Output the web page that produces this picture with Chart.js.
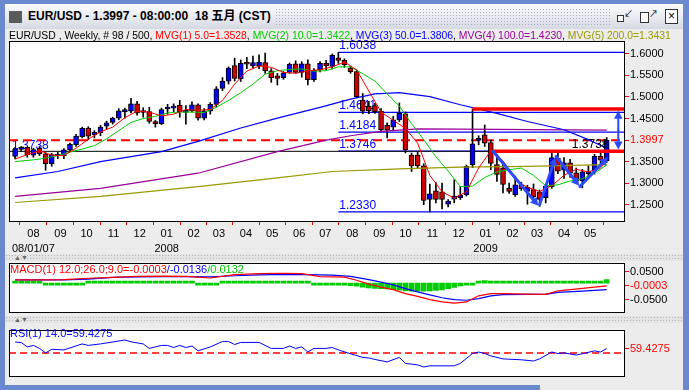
<!DOCTYPE html>
<html>
<head>
<meta charset="utf-8">
<title>EUR/USD Weekly</title>
<script src="https://cdn.jsdelivr.net/npm/chart.js@4.4.1/dist/chart.umd.min.js"></script>
<style>
  html, body { margin: 0; padding: 0; }
  body { width: 689px; height: 390px; position: relative; overflow: hidden; background: #6b89cf;
         font-family: "Liberation Sans", Arial, "Noto Sans CJK SC", sans-serif; }
  .abs { position: absolute; }
  #titlebar { left: 5px; top: 4px; width: 678px; height: 25px; background: linear-gradient(#fcfcfe, #e8eaf0 55%, #d5d9e2); }
  #title { left: 28px; top: 9px; font-weight: bold; font-size: 12px; line-height: 14px; color: #000; white-space: nowrap; }
  #grip { left: 9px; top: 11px; width: 13px; height: 12px;
          background-image: radial-gradient(#555 0.7px, transparent 0.9px); background-size: 2px 2px; }
  #dots { left: 275px; top: 8px; width: 336px; height: 18px;
          background-image: radial-gradient(#a6afc2 0.8px, transparent 1px); background-size: 3px 3px; }
  .ico { width: 8px; height: 8px; border: 1px solid #333; background: #fff; }
  #panel { left: 5px; top: 29px; width: 678px; height: 356px; background: #ececec; }
  #botgray { left: 540px; top: 383px; width: 143px; height: 7px; background: #ececec; }
  .sep { left: 5px; width: 678px; height: 7px; background-color: #e4e4e4;
         background-image: radial-gradient(#b5b5b5 0.7px, transparent 0.9px); background-size: 3px 3px; }
  .tri { font-size: 7px; color: #666; line-height: 7px; }
  canvas { position: absolute; left: 0; }
  .lbl { position: absolute; font-size: 11px; line-height: 13px; white-space: nowrap; z-index: 5; }
</style>
</head>
<body>
<div id="titlebar" class="abs"></div>
<div id="grip" class="abs"></div>
<div id="title" class="abs">EUR/USD - 1.3997 - 08:00:00&nbsp; 18 五月 (CST)</div>
<div id="dots" class="abs"></div>
<div class="abs ico" style="left:617px;top:15px;width:5px;height:5px;"></div>
<div class="abs" style="left:624px;top:7px;font-size:9px;">&#8601;</div>
<div class="abs ico" style="left:640px;top:12px;width:7px;height:9px;"></div>
<div class="abs" style="left:649px;top:7px;font-size:9px;">&#8599;</div>
<div class="abs ico" style="left:665px;top:9px;width:11px;height:13px;font-size:12px;line-height:13px;text-align:center;">&#215;</div>
<div id="panel" class="abs"></div>
<div id="botgray" class="abs"></div>
<div class="abs sep" style="top:254px;"></div>
<div class="abs tri" style="left:14px;top:254px;">&#9650;&#9660;</div>
<div class="abs sep" style="top:316px;"></div>
<div class="abs tri" style="left:14px;top:316px;">&#9650;&#9660;</div>

<canvas id="main" width="689" height="225" style="top:30px"></canvas>
<canvas id="macd" width="689" height="65" style="top:255px"></canvas>
<canvas id="rsi" width="689" height="62" style="top:322px"></canvas>

<div class="lbl" style="left:9px;top:29px;font-size:10.4px;">EUR/USD , Weekly, # 98 / 500, <span style="color:#ff0000">MVG(1) 5.0=1.3528</span>, <span style="color:#00cc00">MVG(2) 10.0=1.3422</span>, <span style="color:#0000ff">MVG(3) 50.0=1.3806</span>, <span style="color:#990099">MVG(4) 100.0=1.4230</span>, <span style="color:#999900">MVG(5) 200.0=1.3431</span></div>
<div class="lbl" style="left:10px;top:263px;"><span style="color:#ff0000">MACD(1) 12.0;26.0;9.0=-0.0003</span><span style="color:#0000ff">/-0.0136</span><span style="color:#00cc00">/0.0132</span></div>
<div class="lbl" style="left:10px;top:327px;color:#0000ff;">RSI(1) 14.0=59.4275</div>

<script>
const FONT = '"Liberation Sans", Arial, sans-serif';

// weekly bars, first bar dated 2007-07-11
const firstBar = Date.UTC(2007, 6, 11);
const WEEK = 7 * 24 * 3600 * 1000;

const monthLabels = ['08','09','10','11','12','01','02','03','04','05','06','07',
                     '08','09','10','11','12','01','02','03','04','05'];
const yearLabels = ['08/01/07','','','','','2008','','','','','','',
                    '','','','','','2009','','','',''];

const opens = [1.362,1.378,1.383,1.365,1.381,1.368,1.345,1.363,1.363,1.377,
  1.389,1.408,1.428,1.412,1.417,1.432,1.441,1.451,1.466,1.467,
  1.484,1.464,1.466,1.443,1.438,1.472,1.474,1.481,1.464,1.468,
  1.482,1.451,1.467,1.483,1.520,1.537,1.573,1.542,1.578,1.572,
  1.573,1.580,1.561,1.549,1.545,1.557,1.577,1.557,1.577,1.540,
  1.563,1.579,1.571,1.591,1.585,1.567,1.559,1.493,1.479,1.480,
  1.467,1.434,1.430,1.447,1.461,1.365,1.365,1.340,1.262,1.282,
  1.280,1.251,1.263,1.266,1.273,1.343,1.399,1.412,1.394,1.343,
  1.335,1.288,1.273,1.295,1.281,1.285,1.280,1.266,1.292,1.358,
  1.330,1.347,1.324,1.305,1.322,1.328,1.362,1.352];
const highs = [1.383,1.385,1.384,1.381,1.385,1.371,1.369,1.372,1.380,1.393,
  1.413,1.430,1.431,1.422,1.434,1.444,1.453,1.473,1.474,1.497,
  1.490,1.475,1.476,1.446,1.474,1.483,1.484,1.492,1.480,1.489,
  1.484,1.473,1.487,1.524,1.545,1.570,1.590,1.586,1.592,1.595,
  1.598,1.602,1.566,1.555,1.559,1.579,1.584,1.582,1.586,1.566,
  1.582,1.585,1.600,1.6038,1.589,1.571,1.563,1.508,1.490,1.485,
  1.473,1.440,1.455,1.486,1.465,1.370,1.372,1.345,1.298,1.301,
  1.300,1.262,1.308,1.292,1.342,1.4719,1.410,1.435,1.400,1.366,
  1.346,1.300,1.316,1.302,1.295,1.298,1.284,1.296,1.3738,1.370,
  1.359,1.355,1.335,1.332,1.340,1.367,1.370,1.406];
const lows = [1.356,1.374,1.360,1.360,1.364,1.330,1.339,1.357,1.357,1.375,
  1.385,1.405,1.401,1.405,1.410,1.425,1.437,1.447,1.451,1.463,
  1.458,1.453,1.439,1.430,1.436,1.460,1.465,1.453,1.437,1.465,
  1.446,1.447,1.460,1.477,1.515,1.530,1.537,1.536,1.566,1.567,
  1.566,1.555,1.534,1.528,1.541,1.555,1.555,1.546,1.528,1.536,
  1.558,1.563,1.565,1.578,1.569,1.555,1.498,1.461,1.461,1.462,
  1.419,1.405,1.423,1.443,1.370,1.327,1.335,1.250,1.233,1.254,
  1.240,1.245,1.254,1.262,1.270,1.336,1.389,1.385,1.331,1.304,
  1.277,1.276,1.269,1.283,1.251,1.262,1.246,1.254,1.288,1.322,
  1.311,1.313,1.301,1.289,1.312,1.321,1.345,1.348];
const closes = [1.379,1.383,1.366,1.378,1.368,1.345,1.366,1.365,1.377,1.390,
  1.409,1.427,1.409,1.418,1.430,1.440,1.451,1.468,1.469,1.484,
  1.463,1.466,1.443,1.438,1.471,1.474,1.476,1.466,1.469,1.482,
  1.451,1.468,1.483,1.519,1.537,1.567,1.543,1.578,1.576,1.580,
  1.581,1.561,1.545,1.543,1.556,1.576,1.557,1.577,1.540,1.562,
  1.578,1.572,1.597,1.585,1.575,1.559,1.501,1.467,1.468,1.466,
  1.424,1.423,1.447,1.462,1.377,1.340,1.340,1.260,1.275,1.262,
  1.262,1.258,1.270,1.272,1.339,1.391,1.404,1.393,1.346,1.320,
  1.297,1.281,1.296,1.287,1.290,1.268,1.262,1.293,1.359,1.328,
  1.347,1.323,1.305,1.326,1.327,1.362,1.353,1.3997];

// moving averages (week index -> value)
const ma5X = [0,2,4,6,8,10,12,14,16,18,20,22,24,26,28,30,32,34,36,38,40,42,44,46,48,
  50,52,54,56,58,60,62,64,66,68,70,72,74,76,78,80,82,84,86,88,90,92,94,96,97];
const ma5Y = [1.356,1.366,1.375,1.365,1.364,1.381,1.402,1.419,1.430,1.452,1.467,1.465,1.456,
  1.460,1.471,1.469,1.471,1.492,1.530,1.560,1.572,1.569,1.557,1.555,1.561,1.563,1.570,
  1.581,1.563,1.514,1.465,1.446,1.427,1.393,1.318,1.280,1.265,1.280,1.335,1.375,1.352,
  1.308,1.290,1.281,1.294,1.318,1.332,1.326,1.335,1.353];
const ma10X = [0,3,5,7,9,11,13,15,17,19,21,23,25,27,29,31,33,35,37,39,41,43,45,47,49,
  51,53,55,57,59,61,63,65,67,69,71,73,75,77,79,81,83,85,87,89,91,93,95,97];
const ma10Y = [1.350,1.354,1.358,1.364,1.372,1.379,1.387,1.403,1.422,1.441,1.450,1.455,1.463,
  1.465,1.465,1.464,1.476,1.492,1.510,1.530,1.553,1.561,1.564,1.565,1.560,1.561,1.570,
  1.570,1.554,1.537,1.507,1.479,1.438,1.401,1.361,1.328,1.292,1.293,1.313,1.326,1.331,
  1.335,1.318,1.294,1.296,1.305,1.310,1.323,1.342];
const ma50X = [0,7,14,24,30,37,43,50,55,59,63,68,73,79,84,90,94,97];
const ma50Y = [1.312,1.327,1.350,1.373,1.397,1.428,1.451,1.476,1.495,1.507,1.510,1.501,
  1.482,1.462,1.443,1.424,1.401,1.381];
const ma100X = [0,14,30,43,51,55,60,66,79,97];
const ma100Y = [1.269,1.288,1.323,1.373,1.400,1.410,1.420,1.426,1.425,1.423];
const ma200X = [0,14,30,43,52,63,73,84,97];
const ma200Y = [1.255,1.269,1.292,1.312,1.327,1.333,1.337,1.339,1.343];

// price levels and drawings
const priceTicks = [1.25, 1.30, 1.35, 1.3997, 1.45, 1.50, 1.55, 1.60];
const lastPrice = 1.3997;
const fibLevels = [1.6038, 1.4641, 1.4184, 1.3746, 1.2330];
const fibStart = 53;
const markLevel = 1.3738;
const resistTop = 1.4719, resistTopFrom = 75;
const resistLow = 1.3740, resistLowFrom = 78.5;
const arrowX1 = [78.4, 86.0, 88.7, 92.6], arrowY1 = [1.3735, 1.250, 1.362, 1.292];
const arrowX2 = [85.8, 88.6, 92.5, 97.2], arrowY2 = [1.2475, 1.360, 1.294, 1.360];
const rangeArrowX = 98.9, rangeArrowLo = 1.378, rangeArrowHi = 1.468;

// MACD 12/26/9
const macdX = [0,4,8,12,16,20,24,28,32,36,40,44,47,50,54,56,58,60,62,64,66,68,70,72,74,76,78,80,84,87,89,93,97];
const macdY = [0.021,0.021,0.022,0.027,0.030,0.034,0.035,0.034,0.028,0.040,0.044,0.045,0.044,
  0.033,0.031,0.020,0.006,-0.005,-0.014,-0.028,-0.038,-0.050,-0.058,-0.062,-0.058,-0.036,
  -0.028,-0.028,-0.030,-0.031,-0.018,-0.009,-0.0003];
const signalX = [0,4,8,12,16,20,24,28,32,36,40,44,48,52,55,58,60,62,64,66,68,70,72,74,76,78,80,84,87,89,93,97];
const signalY = [0.021,0.021,0.021,0.024,0.030,0.032,0.033,0.033,0.032,0.036,0.039,0.041,0.040,
  0.038,0.034,0.022,0.013,0.003,-0.010,-0.022,-0.033,-0.043,-0.050,-0.052,-0.046,-0.036,
  -0.032,-0.031,-0.031,-0.024,-0.019,-0.0136];
const histY = [0.001,0.001,0.001,0.001,0.001,-0.002,-0.002,-0.002,-0.002,-0.002,
  -0.002,-0.002,0.003,0.003,0.003,0.003,0.003,0.003,0.003,0.003,
  0.002,0.002,0.002,0.002,0.002,0.002,0.002,0.002,0.002,0.002,
  -0.002,-0.002,-0.002,-0.002,0.002,0.002,0.002,0.002,0.002,0.003,
  0.003,0.003,0.003,0.003,0.003,0.003,0.003,0.003,0.003,-0.003,
  -0.003,-0.003,-0.003,-0.003,-0.004,-0.009,-0.011,-0.014,-0.017,-0.019,
  -0.020,-0.021,-0.023,-0.025,-0.028,-0.029,-0.029,-0.029,-0.028,-0.026,
  -0.024,-0.020,-0.015,-0.010,-0.005,-0.001,0.006,0.009,0.007,0.004,
  0.002,0.001,0.001,0.001,0.001,0.001,0.001,0.001,0.001,0.002,
  0.002,0.002,0.002,0.002,0.003,0.005,0.008,0.0132];
const macdTicks = [0.05, -0.0003, -0.05];
const histBase = 0.0093;

// RSI 14
const rsiX = [0,1,2,3,4,5,6,8,11,12,14,18,19,21,22,24,25,26,27,28,29,30,32,34,35,36,37,40,42,44,45,46,47,48,
  49,51,52,53,55,57,58,59,61,63,64,66,67,68,70,72,73,75,76,77,78,80,83,85,86,88,89,90,92,93,95,96,97];
const rsiY = [73.5,72.4,63.0,66.2,59.8,50.2,57.9,56.6,69.4,66.2,69.4,77.8,73.9,69.4,59.8,66.2,66.2,61.7,
  66.2,61.7,64.9,54.6,63.0,74.5,74.5,68.1,72.6,72.6,59.8,59.8,64.9,59.8,63.0,52.1,59.8,59.8,61.7,
  56.6,48.3,40.6,39.4,36.2,31.0,40.6,27.8,24.6,20.1,22.6,22.6,22.6,27.8,48.9,52.1,48.9,43.8,37.4,
  35.5,32.9,37.4,52.1,48.9,50.2,45.7,48.3,54.6,52.1,59.43];
const rsiMid = 50;
const rsiLast = 59.4275;

// ---- helpers ----
const pts = (xs, ys) => xs.map((x, i) => ({ x: x, y: ys[i] }));
const weeks = closes.map((c, i) => i);
const monthPos = monthLabels.map((m, k) => (Date.UTC(2007, 7 + k, 1) - firstBar) / WEEK);

const frame = {
  id: 'frame',
  beforeDraw(chart) {
    const a = chart.chartArea, c = chart.ctx;
    c.save();
    c.fillStyle = '#ffffff';
    c.fillRect(a.left, a.top, a.right - a.left, a.bottom - a.top);
    c.restore();
  },
  afterDraw(chart) {
    const a = chart.chartArea, c = chart.ctx;
    c.save();
    c.strokeStyle = '#000';
    c.lineWidth = 1;
    c.strokeRect(Math.round(a.left) + 0.5, Math.round(a.top) + 0.5,
      Math.round(a.right - a.left) - 1, Math.round(a.bottom - a.top) - 1);
    c.restore();
  }
};

function drawArrow(ctx, x1, y1, x2, y2, head) {
  const a = Math.atan2(y2 - y1, x2 - x1);
  const bx = x2 - head * 0.8 * Math.cos(a), by = y2 - head * 0.8 * Math.sin(a);
  ctx.beginPath(); ctx.moveTo(x1, y1); ctx.lineTo(bx, by); ctx.stroke();
  ctx.beginPath();
  ctx.moveTo(x2, y2);
  ctx.lineTo(x2 - head * Math.cos(a - 0.5), y2 - head * Math.sin(a - 0.5));
  ctx.lineTo(x2 - head * Math.cos(a + 0.5), y2 - head * Math.sin(a + 0.5));
  ctx.closePath(); ctx.fill();
}

const notes = {
  id: 'notes',
  beforeDatasetsDraw(chart) {
    const { ctx, scales: { x, y } } = chart;
    ctx.save();
    ctx.font = '12px ' + FONT;
    ctx.textBaseline = 'alphabetic';
    ctx.textAlign = 'left';
    ctx.fillStyle = '#0000ff';
    fibLevels.forEach(v => ctx.fillText(v.toFixed(4), x.getPixelForValue(fibStart) + 1, y.getPixelForValue(v) - 3));
    ctx.fillText(markLevel.toFixed(4), x.getPixelForValue(-0.5), y.getPixelForValue(markLevel) - 2);
    ctx.restore();
  },
  afterDatasetsDraw(chart) {
    const { ctx, scales: { x, y } } = chart;
    ctx.save();
    ctx.font = '12px ' + FONT;
    ctx.fillStyle = '#000';
    ctx.textAlign = 'right';
    ctx.fillText(markLevel.toFixed(4), x.getPixelForValue(97.3), y.getPixelForValue(markLevel) - 3);
    ctx.strokeStyle = '#2a4bff';
    ctx.fillStyle = '#2a4bff';
    ctx.lineWidth = 3;
    ctx.lineCap = 'round';
    arrowX1.forEach((v, i) => drawArrow(ctx, x.getPixelForValue(v), y.getPixelForValue(arrowY1[i]),
      x.getPixelForValue(arrowX2[i]), y.getPixelForValue(arrowY2[i]), 9));
    ctx.lineWidth = 2;
    const ax = x.getPixelForValue(rangeArrowX);
    const lo = y.getPixelForValue(rangeArrowLo), hi = y.getPixelForValue(rangeArrowHi);
    const mid = (lo + hi) / 2;
    drawArrow(ctx, ax, mid, ax, hi, 9);
    drawArrow(ctx, ax, mid, ax, lo, 9);
    ctx.restore();
  }
};

const tickFont = { size: 11, family: FONT };

function xScale(show) {
  const s = {
    type: 'linear', min: -1, max: 100, offset: false, display: show,
    grid: { drawOnChartArea: false, tickLength: 3, tickColor: '#ff0000' },
    border: { display: false },
    ticks: {
      autoSkip: false, maxRotation: 0, padding: 1, color: '#000',
      font: { size: 11, family: FONT, lineHeight: '15px' },
      callback: (v, i) => yearLabels[i] ? [monthLabels[i], yearLabels[i]] : monthLabels[i]
    }
  };
  if (show) {
    s.afterBuildTicks = sc => { sc.ticks = monthPos.map(v => ({ value: v })); };
    s.afterFit = sc => { sc.height = 33; };
  }
  return s;
}

function yScale(min, max, ticks, redValue, digits) {
  return {
    position: 'right', min: min, max: max,
    afterBuildTicks: s => { s.ticks = ticks.map(v => ({ value: v })); },
    afterFit: s => { s.width = 64; },
    grid: { drawOnChartArea: false, tickLength: 4, tickColor: '#ff0000' },
    border: { display: false },
    ticks: {
      padding: 1, font: tickFont,
      color: c => (c.tick && c.tick.value === redValue) ? '#ff0000' : '#000',
      callback: v => Number(v).toFixed(digits)
    }
  };
}

const baseOpts = (padding) => ({
  responsive: false, animation: false, devicePixelRatio: 1,
  layout: { padding: padding },
  plugins: { legend: { display: false }, tooltip: { enabled: false }, title: { display: false } },
  elements: { point: { radius: 0 }, line: { tension: 0 } }
});

const line = (data, color, width, extra) => Object.assign({
  type: 'line', data: data, borderColor: color, borderWidth: width, pointRadius: 0, fill: false
}, extra || {});

// ---- main price chart ----
new Chart(document.getElementById('main'), {
  type: 'line',
  data: {
    datasets: [
      line([{ x: resistTopFrom, y: resistTop }, { x: 100, y: resistTop }], '#ff0000', 3.5),
      line([{ x: resistLowFrom, y: resistLow }, { x: 100, y: resistLow }], '#ff0000', 3.5),
      line(pts(ma5X, ma5Y), '#ff0000', 1),
      line(pts(ma10X, ma10Y), '#00cc00', 1),
      line(pts(ma50X, ma50Y), '#0000ff', 1.2),
      line(pts(ma100X, ma100Y), '#990099', 1.2),
      line(pts(ma200X, ma200Y), '#999900', 1.2),
      {
        type: 'bar', grouped: false, barThickness: 5,
        data: weeks.map(i => ({ x: i, y: [opens[i], closes[i]] })),
        backgroundColor: weeks.map(i => closes[i] >= opens[i] ? '#0000ff' : '#cc0000'),
        borderColor: '#000', borderWidth: 1, borderSkipped: false, minBarLength: 2
      },
      {
        type: 'bar', grouped: false, barThickness: 1,
        data: weeks.map(i => ({ x: i, y: [lows[i], highs[i]] })),
        backgroundColor: '#000', borderWidth: 0
      },
      line([{ x: -1, y: markLevel }, { x: 100, y: markLevel }], '#000', 1),
      line([{ x: -1, y: lastPrice }, { x: 100, y: lastPrice }], '#ff0000', 2, { borderDash: [9, 5] }),
      ...fibLevels.map(v => line([{ x: fibStart, y: v }, { x: 100, y: v }], '#0000ff', 1.2))
    ]
  },
  options: Object.assign(baseOpts({ left: 9, top: 11, right: 0, bottom: 0 }), {
    scales: { x: xScale(true), y: yScale(1.2097, 1.63, priceTicks, lastPrice, 4) }
  }),
  plugins: [frame, notes]
});

// ---- MACD ----
new Chart(document.getElementById('macd'), {
  type: 'line',
  data: {
    datasets: [
      line(pts(macdX, macdY), '#ff0000', 1.2),
      line(pts(signalX, signalY), '#0000ff', 1.2),
      {
        type: 'bar', grouped: false, barThickness: 5, yAxisID: 'yh', minBarLength: 2,
        data: weeks.map(i => ({ x: i, y: histY[i] })),
        backgroundColor: '#00cc00', borderWidth: 0
      }
    ]
  },
  options: Object.assign(baseOpts({ left: 9, top: 7, right: 0, bottom: 4 }), {
    scales: {
      x: xScale(false),
      y: yScale(-0.0957, 0.0833, macdTicks, -0.0003, 4),
      yh: { display: false, min: -0.0957 - histBase, max: 0.0833 - histBase }
    }
  }),
  plugins: [frame]
});

// ---- RSI ----
new Chart(document.getElementById('rsi'), {
  type: 'line',
  data: {
    datasets: [
      line(pts(rsiX, rsiY), '#0000ff', 1),
      line([{ x: -1, y: rsiMid }, { x: 100, y: rsiMid }], '#ff0000', 1.5, { borderDash: [7, 4] })
    ]
  },
  options: Object.assign(baseOpts({ left: 9, top: 5, right: 0, bottom: 5 }), {
    scales: { x: xScale(false), y: yScale(0, 100, [rsiLast], rsiLast, 4) }
  }),
  plugins: [frame]
});
</script>
</body>
</html>
